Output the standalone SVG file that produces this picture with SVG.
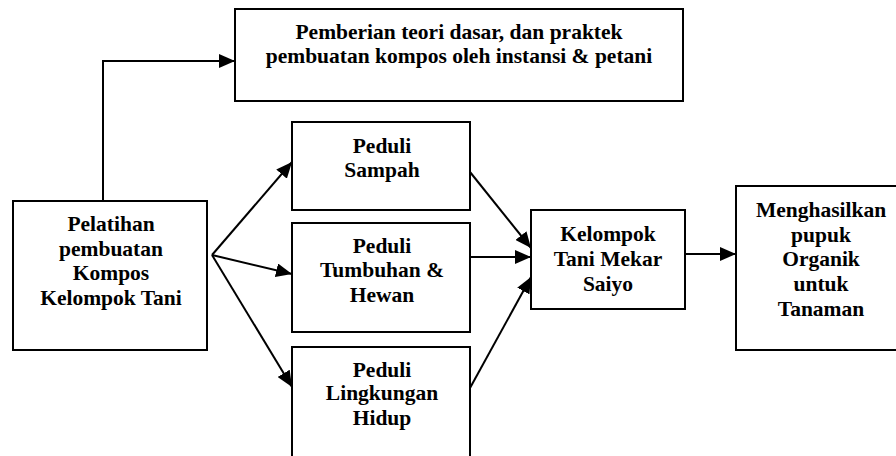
<svg xmlns="http://www.w3.org/2000/svg" width="896" height="456" viewBox="0 0 896 456">
<style>
.box{fill:#fff;stroke:#000;stroke-width:2}
.t{font-family:"Liberation Serif","Times New Roman",serif;font-weight:bold;font-size:21.5px;text-anchor:middle;fill:#000}
.c{fill:none;stroke:#000;stroke-width:2;marker-end:url(#ah)}
</style>
<defs>
<marker id="ah" markerUnits="userSpaceOnUse" markerWidth="16" markerHeight="14" refX="16" refY="7" orient="auto">
<path d="M0,0 L16,7 L0,14 z" fill="#000"/>
</marker>
</defs>
<rect width="896" height="456" fill="#fff"/>
<g id="connectors">
<path class="c" d="M103,201 V61 H235"/>
<path class="c" d="M212,255 L292,162"/>
<path class="c" d="M212,255 L292,274"/>
<path class="c" d="M212,255 L292,387"/>
<path class="c" d="M470,172 L531,248"/>
<path class="c" d="M470,257 L531,257"/>
<path class="c" d="M470,388 L531,277"/>
<path class="c" d="M685,254 L736,254"/>
</g>
<g id="top">
<rect class="box" x="235" y="9" width="448" height="92"/>
<text class="t" x="459" y="39">Pemberian teori dasar, dan praktek</text>
<text class="t" x="459" y="63">pembuatan kompos oleh instansi &amp; petani</text>
</g>
<g id="pelatihan">
<rect class="box" x="13" y="201" width="194" height="149"/>
<text class="t" x="111" y="231">Pelatihan</text>
<text class="t" x="111" y="256">pembuatan</text>
<text class="t" x="111" y="280">Kompos</text>
<text class="t" x="111" y="305">Kelompok Tani</text>
</g>
<g id="sampah">
<rect class="box" x="292" y="122" width="178" height="88"/>
<text class="t" x="382" y="153">Peduli</text>
<text class="t" x="382" y="177">Sampah</text>
</g>
<g id="tumbuhan">
<rect class="box" x="292" y="223" width="178" height="109"/>
<text class="t" x="382" y="253">Peduli</text>
<text class="t" x="382" y="277">Tumbuhan &amp;</text>
<text class="t" x="382" y="302">Hewan</text>
</g>
<g id="lingkungan">
<rect class="box" x="292" y="347" width="178" height="120"/>
<text class="t" x="382" y="377">Peduli</text>
<text class="t" x="382" y="400">Lingkungan</text>
<text class="t" x="382" y="425">Hidup</text>
</g>
<g id="kelompok">
<rect class="box" x="531" y="210" width="154" height="99"/>
<text class="t" x="608" y="241">Kelompok</text>
<text class="t" x="608" y="266">Tani Mekar</text>
<text class="t" x="608" y="291">Saiyo</text>
</g>
<g id="hasil">
<rect class="box" x="736" y="186" width="170" height="164"/>
<text class="t" x="821" y="217">Menghasilkan</text>
<text class="t" x="821" y="242">pupuk</text>
<text class="t" x="821" y="266">Organik</text>
<text class="t" x="821" y="291">untuk</text>
<text class="t" x="821" y="316">Tanaman</text>
</g>
</svg>
